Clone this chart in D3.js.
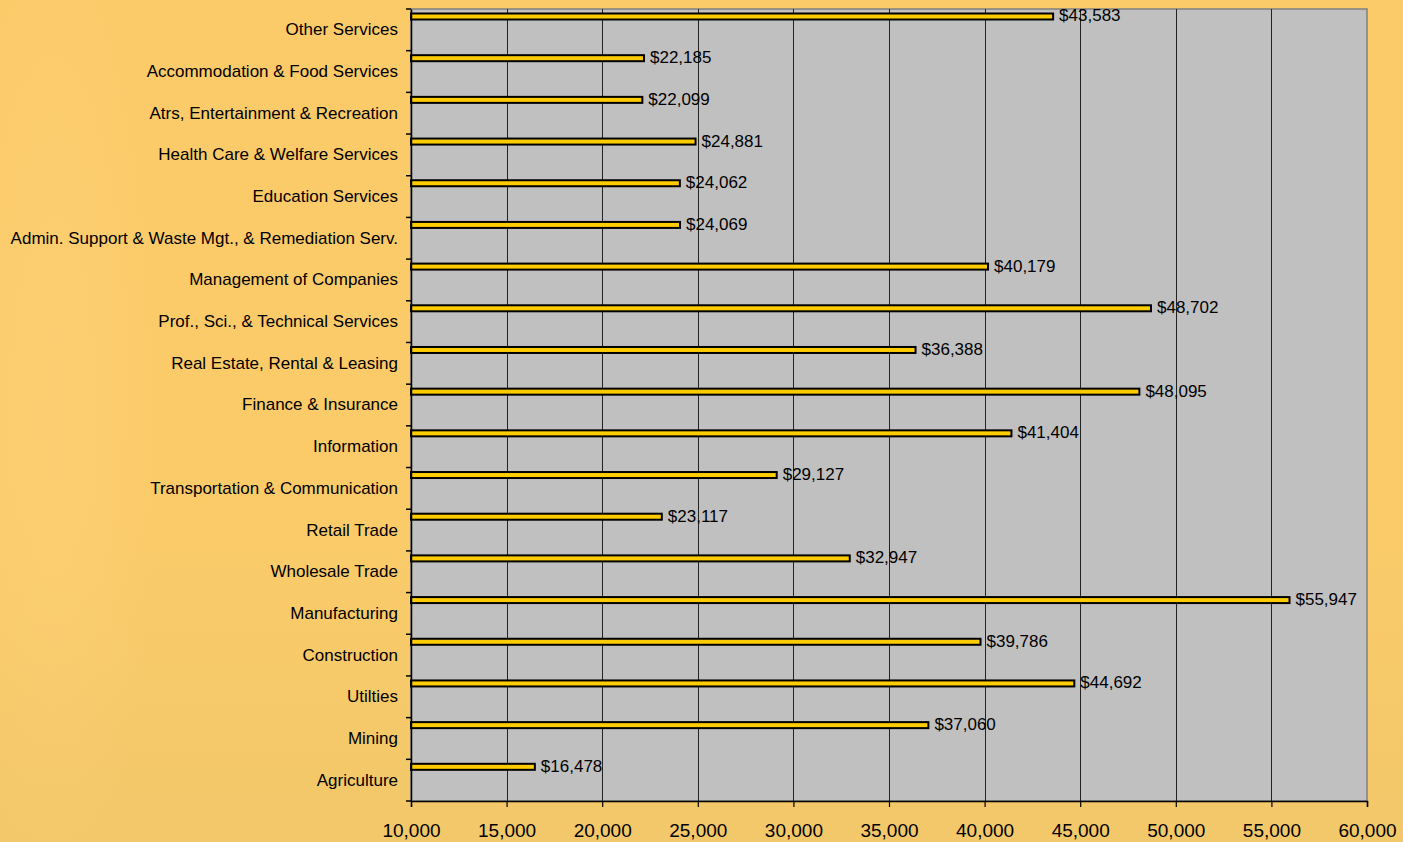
<!DOCTYPE html>
<html>
<head>
<meta charset="utf-8">
<script src="https://cdn.jsdelivr.net/npm/d3@7"></script>
<style>
  html, body { margin: 0; padding: 0; background: #FBCB69; }
  svg { display: block; }
</style>
</head>
<body>
<svg id="chart" width="1403" height="842"></svg>
<script>
const categories = [
  "Other Services",
  "Accommodation & Food Services",
  "Atrs, Entertainment & Recreation",
  "Health Care & Welfare Services",
  "Education Services",
  "Admin. Support & Waste Mgt., & Remediation Serv.",
  "Management of Companies",
  "Prof., Sci., & Technical Services",
  "Real Estate, Rental & Leasing",
  "Finance & Insurance",
  "Information",
  "Transportation & Communication",
  "Retail Trade",
  "Wholesale Trade",
  "Manufacturing",
  "Construction",
  "Utilties",
  "Mining",
  "Agriculture"
];
const values = [43583, 22185, 22099, 24881, 24062, 24069, 40179, 48702, 36388, 48095, 41404, 29127, 23117, 32947, 55947, 39786, 44692, 37060, 16478];
const xTicks = [10000, 15000, 20000, 25000, 30000, 35000, 40000, 45000, 50000, 55000, 60000];

(function () {
const svg = d3.select("#chart");
const W = 1403, H = 842;
const pL = 411, pR = 1367, pT = 9, pB = 801;

// background
const defs = svg.append("defs");
const bg = defs.append("linearGradient").attr("id", "bg").attr("x1", 0).attr("y1", 0).attr("x2", 0).attr("y2", 1);
bg.append("stop").attr("offset", "0%").attr("stop-color", "#FBCB6A");
bg.append("stop").attr("offset", "60%").attr("stop-color", "#FBCB69");
bg.append("stop").attr("offset", "100%").attr("stop-color", "#F2C86A");
svg.append("rect").attr("width", W).attr("height", H).attr("fill", "url(#bg)");
const lg = defs.append("radialGradient").attr("id", "lt").attr("cx", 0.3).attr("cy", 0.5).attr("r", 0.6);
lg.append("stop").attr("offset", "0%").attr("stop-color", "#FDD27A").attr("stop-opacity", 0.5);
lg.append("stop").attr("offset", "100%").attr("stop-color", "#FDD27A").attr("stop-opacity", 0);
svg.append("rect").attr("x", 0).attr("y", 0).attr("width", 178).attr("height", H).attr("fill", "url(#lt)");

const x = d3.scaleLinear().domain([10000, 60000]).range([pL, pR]);
const y = d3.scaleBand().domain(categories).range([pT, pB]).padding(0);

// plot area
svg.append("rect").attr("x", pL).attr("y", pT).attr("width", pR - pL).attr("height", pB - pT)
  .attr("fill", "#C0C0C0").attr("stroke", "#808080").attr("stroke-width", 1.5);

// gridlines
svg.append("g").selectAll("line").data(xTicks.slice(1, -1)).join("line")
  .attr("x1", d => Math.round(x(d)) + 0.5).attr("x2", d => Math.round(x(d)) + 0.5)
  .attr("y1", pT).attr("y2", pB)
  .attr("stroke", "#222").attr("stroke-width", 1);

// bars
const bh = 6;
svg.append("g").selectAll("rect").data(values).join("rect")
  .attr("x", pL)
  .attr("y", (d, i) => y(categories[i]) + 4.5)
  .attr("width", d => x(d) - pL)
  .attr("height", bh)
  .attr("fill", "#FFCC00")
  .attr("stroke", "#000").attr("stroke-width", 2);

// value labels
svg.append("g").selectAll("text").data(values).join("text")
  .attr("x", d => x(d) + 6)
  .attr("y", (d, i) => y(categories[i]) + 3.5 + bh / 2)
  .attr("dy", "0.35em")
  .attr("font-family", "Liberation Sans, Arial, sans-serif")
  .attr("font-size", 17)
  .attr("fill", "#000")
  .text(d => "$" + d3.format(",")(d));

// y axis
const yAxis = d3.axisLeft(y).tickSize(0).tickPadding(13);
const gy = svg.append("g").attr("transform", `translate(${pL},0)`).call(yAxis);
gy.select(".domain").attr("stroke", "#000").attr("stroke-width", 1.5);
gy.selectAll("text").attr("font-family", "Liberation Sans, Arial, sans-serif").attr("font-size", 17).attr("fill", "#000");
// category boundary ticks
svg.append("g").selectAll("line").data(d3.range(categories.length + 1)).join("line")
  .attr("x1", pL - 5).attr("x2", pL)
  .attr("y1", i => pT + i * y.step()).attr("y2", i => pT + i * y.step())
  .attr("stroke", "#000").attr("stroke-width", 1.5);

// x axis
const xAxis = d3.axisBottom(x).tickValues(xTicks).tickFormat(d3.format(",")).tickSize(6).tickPadding(17);
const gx = svg.append("g").attr("transform", `translate(0,${pB})`).call(xAxis);
gx.select(".domain").attr("stroke", "#000").attr("stroke-width", 1.5);
gx.selectAll(".tick line").attr("stroke", "#000").attr("stroke-width", 1.2);
gx.selectAll("text").attr("font-family", "Liberation Sans, Arial, sans-serif").attr("font-size", 19).attr("fill", "#000");
})();
</script>
</body>
</html>
